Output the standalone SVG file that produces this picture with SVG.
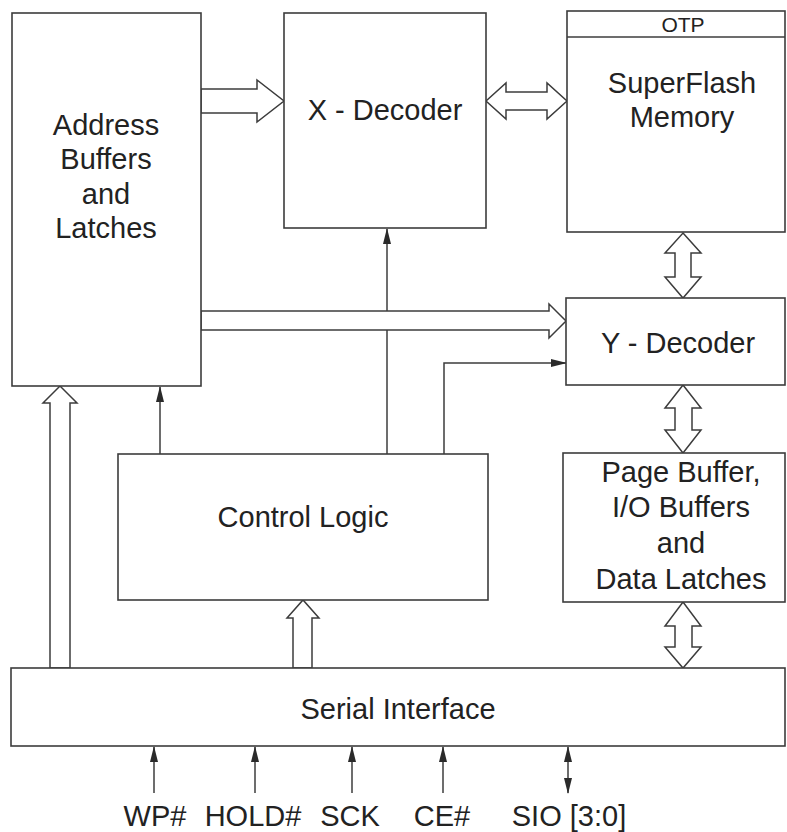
<svg xmlns="http://www.w3.org/2000/svg" width="787" height="832" viewBox="0 0 787 832">
<defs>
<style>
.box{fill:#fff;stroke:#3c3c3c;stroke-width:1.6}
.big{fill:#fff;stroke:#3c3c3c;stroke-width:1.5;stroke-linejoin:miter}
.ln{fill:none;stroke:#3c3c3c;stroke-width:1.5}
.t{font-family:"Liberation Sans",Arial,sans-serif;font-size:29px;fill:#222;text-anchor:middle}
.s{font-size:21px}
</style>
<marker id="ah" viewBox="0 0 16 8" refX="15" refY="4" markerWidth="16" markerHeight="8" markerUnits="userSpaceOnUse" orient="auto-start-reverse">
<path d="M0,0 L16,4 L0,8 z" fill="#2a2a2a"/>
</marker>
</defs>
<rect width="787" height="832" fill="#fff"/>

<g id="connectors">
<path class="ln" d="M387,454 V229" marker-end="url(#ah)"/>
<path class="ln" d="M444,454 V363 H566" marker-end="url(#ah)"/>
<path class="ln" d="M160,454 V387" marker-end="url(#ah)"/>
<polygon class="big" points="201,89 257,89 257,80 284,101 257,122 257,113 201,113"/>
<polygon class="big" points="486,101 506,83 506,92 547,92 547,83 567,101 547,119 547,110 506,110 506,119"/>
<polygon class="big" points="201,311 549,311 549,304 566,321 549,338 549,330 201,330"/>
<polygon class="big" points="683,233 701,253 691,253 691,277 701,277 683,298 665,277 675,277 675,253 665,253"/>
<polygon class="big" points="683,385 701,408 692,408 692,430 701,430 683,453 665,430 675,430 675,408 665,408"/>
<polygon class="big" points="683,602 701,626 692,626 692,647 701,647 683,668 665,647 675,647 675,626 665,626"/>
<polygon class="big" points="50,668 50,403 43,403 60,386 77,403 70,403 70,668"/>
<polygon class="big" points="293,668 293,618 287,618 303,600 319,618 312,618 312,668"/>
<path class="ln" d="M154,793 V747" marker-end="url(#ah)"/>
<path class="ln" d="M255,793 V747" marker-end="url(#ah)"/>
<path class="ln" d="M352,793 V747" marker-end="url(#ah)"/>
<path class="ln" d="M443,793 V747" marker-end="url(#ah)"/>
<path class="ln" d="M568,793 V747" marker-start="url(#ah)" marker-end="url(#ah)"/>
</g>

<g id="address-buffers">
<rect class="box" x="12" y="13" width="189" height="373"/>
<text class="t" x="106" y="135">Address</text>
<text class="t" x="106" y="169">Buffers</text>
<text class="t" x="106" y="204">and</text>
<text class="t" x="106" y="238">Latches</text>
</g>

<g id="x-decoder">
<rect class="box" x="284" y="13" width="202" height="215"/>
<text class="t" x="385" y="120">X - Decoder</text>
</g>

<g id="superflash">
<rect class="box" x="567" y="11" width="218" height="221"/>
<line class="ln" x1="567" y1="37" x2="785" y2="37"/>
<text class="t s" x="683" y="32">OTP</text>
<text class="t" x="682" y="93">SuperFlash</text>
<text class="t" x="682" y="127">Memory</text>
</g>

<g id="y-decoder">
<rect class="box" x="566" y="298" width="219" height="87"/>
<text class="t" x="678" y="353">Y - Decoder</text>
</g>

<g id="control-logic">
<rect class="box" x="118" y="454" width="370" height="146"/>
<text class="t" x="303" y="527">Control Logic</text>
</g>

<g id="page-buffer">
<rect class="box" x="563" y="453" width="222" height="149"/>
<text class="t" x="681" y="482">Page Buffer,</text>
<text class="t" x="681" y="517">I/O Buffers</text>
<text class="t" x="681" y="553">and</text>
<text class="t" x="681" y="589">Data Latches</text>
</g>

<g id="serial-interface">
<rect class="box" x="11" y="668" width="774" height="78"/>
<text class="t" x="398" y="719">Serial Interface</text>
</g>

<g id="pins">
<text class="t" x="155" y="826">WP#</text>
<text class="t" x="253" y="826">HOLD#</text>
<text class="t" x="350" y="826">SCK</text>
<text class="t" x="442" y="826">CE#</text>
<text class="t" x="569" y="826">SIO [3:0]</text>
</g>
</svg>
